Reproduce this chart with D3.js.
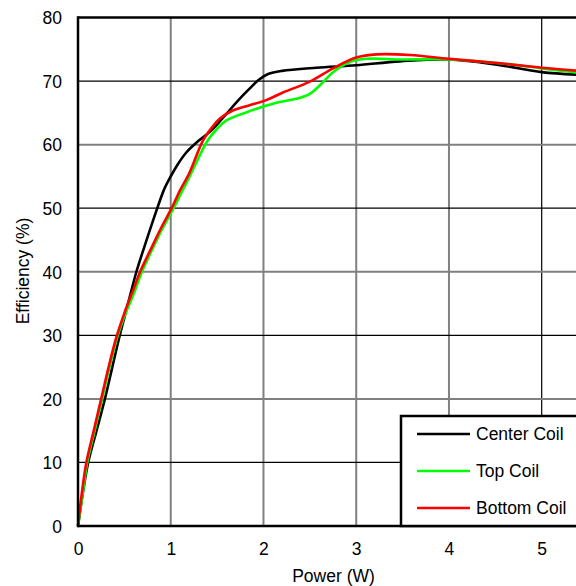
<!DOCTYPE html>
<html><head><meta charset="utf-8">
<script src="https://cdn.jsdelivr.net/npm/d3@7"></script>
<style>html,body{margin:0;padding:0;background:#fff;overflow:hidden}text{font-family:Arial,"Liberation Sans",sans-serif}</style>
</head><body><svg id="c" width="576" height="586"></svg>
<script>
const xTicks = [0,1,2,3,4,5];
const yTicks = [0,10,20,30,40,50,60,70,80];
const seriesNames = ["Center Coil","Top Coil","Bottom Coil"];
const centerX = [0,0.05,0.11,0.2,0.29,0.37,0.45,0.54,0.63,0.74,0.855,0.93,1.0,1.08,1.17,1.3,1.42,1.55,1.73,1.85,1.95,2.05,2.2,2.57,3.0,3.47,4.0,4.55,5.0,5.4];
const centerY = [0,5,10,15,20,25,30,35,40,45,50,53,55,57,58.8,60.6,62,64,67,68.8,70.2,71.1,71.6,72.1,72.5,73.1,73.4,72.5,71.4,71.0];
const topX = [0,0.05,0.1,0.18,0.26,0.34,0.42,0.5,0.6,0.69,0.8,0.9,1.03,1.1,1.2,1.4,1.5,1.6,1.82,2.0,2.14,2.35,2.5,2.62,2.75,2.93,3.11,3.47,4.0,4.55,5.0,5.4];
const topY = [0,5,10,15,20,25,29.5,33,36.5,40,43.5,46.5,50,52,54.9,60.7,62.5,63.8,65.1,66,66.6,67.2,68.0,69.5,71.4,73,73.5,73.4,73.4,72.8,72.0,71.3];
const bottomX = [0,0.04,0.09,0.17,0.25,0.33,0.41,0.5,0.6,0.67,0.8,0.9,1.01,1.1,1.2,1.35,1.45,1.53,1.675,1.85,2.03,2.21,2.5,2.75,3.0,3.22,3.58,4.0,4.55,5.0,5.4];
const bottomY = [0,5,10,15,20,25,29.5,33.5,37.3,40,44,47,50,52.8,55.5,60.7,62.8,64.1,65.4,66.2,67.0,68.2,69.9,72,73.7,74.2,74.1,73.5,72.8,72.1,71.6];

const svg = d3.select("#c");
const x = d3.scaleLinear().domain([0,5.5]).range([78, 78+5.5*92.74]);
const y = d3.scaleLinear().domain([0,80]).range([526,17.5]);

// grid
const gGrid = svg.append("g");
xTicks.filter(t=>t>0).forEach(t=>{
  const dark = t===5;
  gGrid.append("line").attr("x1",x(t)).attr("x2",x(t)).attr("y1",y(0)).attr("y2",y(80))
    .attr("stroke",dark?"#000":"#808080").attr("stroke-width",dark?1.2:2);
});
yTicks.filter(t=>t>0&&t<80).forEach(t=>{
  const dark = (t/10)%2===1;
  gGrid.append("line").attr("x1",x(0)).attr("x2",x(5.5)).attr("y1",y(t)).attr("y2",y(t))
    .attr("stroke",dark?"#000":"#808080").attr("stroke-width",dark?1.2:2);
});

// series
const data = [
  {name:seriesNames[0], xs:centerX, ys:centerY, color:"#000000"},
  {name:seriesNames[1], xs:topX, ys:topY, color:"#00ff00"},
  {name:seriesNames[2], xs:bottomX, ys:bottomY, color:"#ff0000"}
];
const line = d3.line().x(d=>x(d[0])).y(d=>y(d[1])).curve(d3.curveCatmullRom.alpha(0.5));
data.forEach(s=>{
  const pts = s.xs.map((v,i)=>[v,s.ys[i]]);
  svg.append("path").attr("d",line(pts)).attr("fill","none").attr("stroke",s.color)
    .attr("stroke-width",2.6).attr("stroke-linejoin","round");
});

// frame
svg.append("line").attr("x1",x(0)).attr("x2",x(5.5)).attr("y1",y(80)).attr("y2",y(80)).attr("stroke","#000").attr("stroke-width",2.5);
svg.append("line").attr("x1",x(0)).attr("x2",x(5.5)).attr("y1",y(0)).attr("y2",y(0)).attr("stroke","#000").attr("stroke-width",2.5);
svg.append("line").attr("x1",x(0)).attr("x2",x(0)).attr("y1",y(0)+1.25).attr("y2",y(80)-1.25).attr("stroke","#000").attr("stroke-width",2.5);

// axes labels
const xAxis = d3.axisBottom(x).tickValues(xTicks).tickFormat(d3.format("d")).tickSize(0).tickPadding(0);
const gx = svg.append("g").attr("transform",`translate(0,${y(0)})`).call(xAxis);
gx.select(".domain").remove();
gx.selectAll("text").attr("dy",null).attr("y",29).attr("font-size",17.5).attr("fill","#000").attr("font-family","Arial, 'Liberation Sans', sans-serif");
const yAxis = d3.axisLeft(y).tickValues(yTicks).tickFormat(d3.format("d")).tickSize(0).tickPadding(0);
const gy = svg.append("g").attr("transform",`translate(62,0)`).call(yAxis);
gy.select(".domain").remove();
gy.selectAll("text").attr("x",0).attr("dy","0.36em").attr("font-size",17.5).attr("fill","#000").attr("font-family","Arial, 'Liberation Sans', sans-serif");

svg.append("text").attr("x",333.5).attr("y",581.5).attr("text-anchor","middle").attr("font-size",17.5).text("Power (W)");
svg.append("text").attr("transform","translate(29,271) rotate(-90)").attr("text-anchor","middle").attr("font-size",17.5).text("Efficiency (%)");

// legend
const lg = svg.append("g");
lg.append("rect").attr("x",401).attr("y",416).attr("width",200).attr("height",526-416).attr("fill","#fff").attr("stroke","#000").attr("stroke-width",2.5);
const rowsY = [434,471,508];
data.forEach((s,i)=>{
  lg.append("line").attr("x1",417).attr("x2",470).attr("y1",rowsY[i]).attr("y2",rowsY[i]).attr("stroke",s.color).attr("stroke-width",2.6);
  lg.append("text").attr("x",476).attr("y",rowsY[i]).attr("dy","0.36em").attr("font-size",17.5).text(s.name);
});
</script></body></html>
